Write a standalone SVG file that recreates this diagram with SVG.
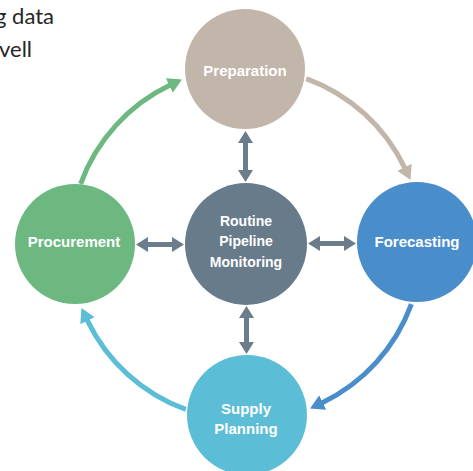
<svg xmlns="http://www.w3.org/2000/svg" width="473" height="471" viewBox="0 0 473 471">
  <style>
    .doc { font-family: "Lato", "Liberation Sans", sans-serif; font-size: 22px; fill: #262626; }
    .label { font-family: "Liberation Sans", Arial, sans-serif; font-weight: bold; font-size: 15px; fill: #ffffff; text-anchor: middle; }
    .label.small { font-size: 14px; }
    .cycle { fill: none; stroke-width: 5; }
    .link { stroke: #6b7d8c; stroke-width: 5; marker-start: url(#head-slate); marker-end: url(#head-slate); }
  </style>
  <defs>
    <marker id="head-green" markerUnits="userSpaceOnUse" markerWidth="14" markerHeight="16" viewBox="0 0 14 16" refX="1" refY="8" orient="auto">
      <path d="M0,0 L14,8 L0,16 z" fill="#6cb880"/>
    </marker>
    <marker id="head-tan" markerUnits="userSpaceOnUse" markerWidth="14" markerHeight="16" viewBox="0 0 14 16" refX="1" refY="8" orient="auto">
      <path d="M0,0 L14,8 L0,16 z" fill="#c2b5a9"/>
    </marker>
    <marker id="head-blue" markerUnits="userSpaceOnUse" markerWidth="14" markerHeight="16" viewBox="0 0 14 16" refX="1" refY="8" orient="auto">
      <path d="M0,0 L14,8 L0,16 z" fill="#4a8dcb"/>
    </marker>
    <marker id="head-cyan" markerUnits="userSpaceOnUse" markerWidth="14" markerHeight="16" viewBox="0 0 14 16" refX="1" refY="8" orient="auto">
      <path d="M0,0 L14,8 L0,16 z" fill="#5cbdd6"/>
    </marker>
    <marker id="head-slate" markerUnits="userSpaceOnUse" markerWidth="12" markerHeight="15" viewBox="0 0 12 15" refX="1" refY="7.5" orient="auto-start-reverse">
      <path d="M0,0 L12,7.5 L0,15 z" fill="#6b7d8c"/>
    </marker>
  </defs>

  <!-- running text at the top left -->
  <text class="doc" x="-5" y="24">g data</text>
  <text class="doc" x="-1" y="57">vell</text>

  <!-- connectors: outer cycle and links to the hub -->
  <g id="connectors">
    <path class="cycle" stroke="#6cb880" marker-end="url(#head-green)" d="M80.6 183.8 A176 176 0 0 1 170.2 85.1"/>
    <path class="cycle" stroke="#c2b5a9" marker-end="url(#head-tan)" d="M306.2 78.6 A176 176 0 0 1 404.9 168.2"/>
    <path class="cycle" stroke="#4a8dcb" marker-end="url(#head-blue)" d="M411.4 304.2 A176 176 0 0 1 321.8 402.9"/>
    <path class="cycle" stroke="#5cbdd6" marker-end="url(#head-cyan)" d="M185.8 409.4 A176 176 0 0 1 87.1 319.8"/>

    <line class="link" x1="245.5" y1="142" x2="245.5" y2="171"/>
    <line class="link" x1="246.5" y1="317" x2="246.5" y2="343"/>
    <line class="link" x1="147" y1="244.5" x2="173" y2="244.5"/>
    <line class="link" x1="319" y1="243.5" x2="345" y2="243.5"/>
  </g>

  <g id="preparation">
    <circle cx="245" cy="69" r="60" fill="#c2b5a9"/>
    <text class="label" x="245" y="76">Preparation</text>
  </g>

  <g id="forecasting">
    <circle cx="417" cy="242" r="60" fill="#4a8dcb"/>
    <text class="label" x="417" y="247">Forecasting</text>
  </g>

  <g id="supply-planning">
    <circle cx="247" cy="415" r="60" fill="#5cbdd6"/>
    <text class="label" x="246" y="414">Supply</text>
    <text class="label" x="246" y="434">Planning</text>
  </g>

  <g id="procurement">
    <circle cx="75" cy="244" r="60" fill="#6cb880"/>
    <text class="label" x="74" y="247">Procurement</text>
  </g>

  <g id="monitoring">
    <circle cx="246" cy="244" r="61" fill="#687b8b"/>
    <text class="label small" x="246" y="226">Routine</text>
    <text class="label small" x="246" y="246">Pipeline</text>
    <text class="label small" x="246" y="267">Monitoring</text>
  </g>
</svg>
